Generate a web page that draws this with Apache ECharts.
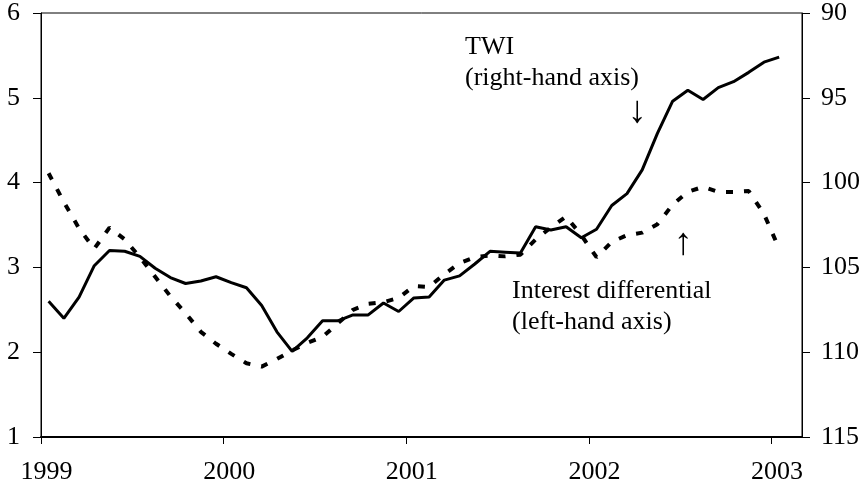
<!DOCTYPE html>
<html>
<head>
<meta charset="utf-8">
<script src="https://cdn.jsdelivr.net/npm/echarts@6/dist/echarts.min.js"></script>
<style>
  html, body { margin: 0; padding: 0; background: #fff; }
  #chart { width: 868px; height: 491px; }
</style>
</head>
<body>
<div id="chart"></div>
<script>
// monthly observations, Jan 1999 - Jan 2003
const years = ["1999", "2000", "2001", "2002", "2003"];
const yearTicks = [0, 12, 24, 36, 48]; // months from Jan 1999

// TWI, right-hand axis (inverted)
const twi = [
  107.0, 108.0, 106.75, 104.9, 104.0, 104.05, 104.35, 105.05, 105.6, 105.95, 105.8, 105.55,
  105.9, 106.2, 107.25, 108.8, 109.95, 109.15, 108.15, 108.15, 107.8, 107.8, 107.1, 107.6,
  106.8, 106.75, 105.75, 105.5, 104.8, 104.05, 104.1, 104.15, 102.6, 102.8, 102.6, 103.25,
  102.75, 101.35, 100.65, 99.25, 97.1, 95.2, 94.55, 95.1, 94.4, 94.05, 93.5, 92.9,
  92.6
];

// interest differential, left-hand axis
const interestDiff = [
  4.11, 3.77, 3.46, 3.22, 3.47, 3.33, 3.12, 2.89, 2.66, 2.46, 2.24, 2.10,
  1.98, 1.87, 1.83, 1.92, 2.02, 2.11, 2.18, 2.34, 2.50, 2.57, 2.59, 2.64,
  2.78, 2.77, 2.92, 3.05, 3.12, 3.14, 3.13, 3.15, 3.33, 3.47, 3.60, 3.38,
  3.12, 3.30, 3.38, 3.41, 3.51, 3.74, 3.89, 3.95, 3.89, 3.89, 3.90, 3.63,
  3.22
];

const FONT = "'Liberation Serif', 'Times New Roman', 'DejaVu Serif', serif";

// points sit in the middle of each month
function toPoints(list) {
  return list.map((v, i) => [i + 0.5, v]);
}

const chart = echarts.init(document.getElementById("chart"), null, { renderer: "canvas" });

const labelStyle = {
  color: "#000",
  fontFamily: FONT,
  fontSize: 26
};

function note(text, x, y, size, align) {
  return {
    type: "text",
    x: x,
    y: y,
    style: {
      text: text,
      fill: "#000",
      font: (size || 26) + "px " + FONT,
      verticalAlign: "middle",
      align: align || "left"
    }
  };
}

chart.setOption({
  animation: false,
  backgroundColor: "#fff",
  grid: {
    left: 41,
    right: 66,
    top: 13,
    bottom: 54,
    show: true,
    borderColor: "#000",
    borderWidth: 1
  },
  xAxis: {
    type: "value",
    min: 0,
    max: 50,
    interval: 12,
    splitLine: { show: false },
    axisLine: { onZero: false, lineStyle: { color: "#000", width: 2 } },
    axisTick: {
      length: 7,
      lineStyle: { color: "#000", width: 1 },
      customValues: yearTicks
    },
    axisLabel: Object.assign({}, labelStyle, {
      margin: 22,
      padding: [0, 0, 0, 11],
      customValues: yearTicks,
      formatter: v => years[Math.round(v / 12)] || ""
    })
  },
  yAxis: [
    {
      type: "value",
      min: 1,
      max: 6,
      interval: 1,
      position: "left",
      splitLine: { show: false },
      axisLine: { show: true, lineStyle: { color: "#000", width: 1 } },
      axisTick: { length: 8, lineStyle: { color: "#000", width: 1 } },
      axisLabel: Object.assign({}, labelStyle, { margin: 21 })
    },
    {
      type: "value",
      min: 90,
      max: 115,
      interval: 5,
      inverse: true,
      position: "right",
      splitLine: { show: false },
      axisLine: { show: true, lineStyle: { color: "#000", width: 1 } },
      axisTick: { length: 8, lineStyle: { color: "#000", width: 1 } },
      axisLabel: Object.assign({}, labelStyle, { margin: 19 })
    }
  ],
  series: [
    {
      name: "Interest differential",
      type: "line",
      yAxisIndex: 0,
      data: toPoints(interestDiff),
      showSymbol: false,
      symbol: "none",
      lineStyle: { color: "#000", width: 4, type: [7, 11], cap: "butt" }
    },
    {
      name: "TWI",
      type: "line",
      yAxisIndex: 1,
      data: toPoints(twi),
      showSymbol: false,
      symbol: "none",
      lineStyle: { color: "#000", width: 3 }
    }
  ],
  graphic: [
    note("TWI", 465, 47),
    note("(right-hand axis)", 465, 78),
    note("\u2193", 637, 112, 38, "center"),
    note("\u2191", 683, 244, 38, "center"),
    note("Interest differential", 512, 291),
    note("(left-hand axis)", 512, 322)
  ]
});
</script>
</body>
</html>
